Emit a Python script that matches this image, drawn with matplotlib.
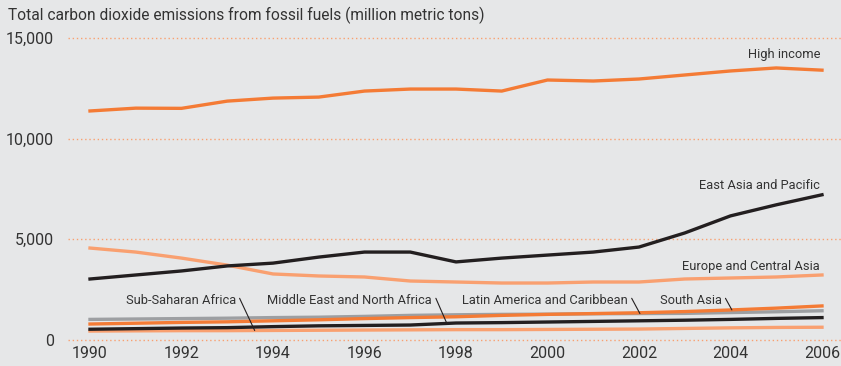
import numpy as np
import matplotlib.pyplot as plt

years = np.arange(1990, 2007)

high_income = [11370, 11510, 11500, 11860, 12010, 12060, 12360, 12460, 12460, 12360,
               12910, 12860, 12960, 13160, 13360, 13510, 13400]
east_asia = [3010, 3210, 3410, 3660, 3800, 4100, 4350, 4350, 3860, 4050,
             4200, 4350, 4600, 5300, 6150, 6700, 7200]
europe_ca = [4550, 4350, 4050, 3700, 3260, 3160, 3110, 2910, 2860, 2810,
             2810, 2860, 2860, 3010, 3060, 3110, 3210]
latin_am = [1000, 1020, 1040, 1060, 1090, 1110, 1150, 1200, 1230, 1250,
            1260, 1280, 1290, 1300, 1340, 1380, 1430]
south_asia = [770, 810, 850, 880, 930, 980, 1040, 1090, 1130, 1200,
              1250, 1290, 1330, 1390, 1470, 1560, 1670]
mena = [510, 540, 570, 590, 640, 680, 700, 720, 820, 840,
        870, 900, 930, 960, 1000, 1050, 1090]
ssa = [420, 430, 440, 440, 450, 460, 470, 480, 490, 490,
       500, 510, 520, 550, 580, 600, 610]

yticks = [0, 5000, 10000, 15000]
ytick_labels = ['0', '5,000', '10,000', '15,000']
xticks = [1990, 1992, 1994, 1996, 1998, 2000, 2002, 2004, 2006]

bg = '#e6e7e8'
orange = '#f47b35'
salmon = '#f9a070'
black = '#231f20'
grey = '#9d9fa2'
txt = '#333333'

plt.rcParams['font.family'] = ['Roboto', 'DejaVu Sans']

fig = plt.figure(figsize=(8.41, 3.66), dpi=100, facecolor=bg)
W, H = 841, 366
# axes: x pixel 68..841, y pixel 38 (15000) .. 339.5 (0)
ax = fig.add_axes([68 / W, (H - 339.5) / H, (W - 68) / W, (339.5 - 38) / H])
ax.set_facecolor(bg)

px_per_year = (822 - 90) / 16
ax.set_xlim(1990 - 22 / px_per_year, 2006 + 19 / px_per_year)
ax.set_ylim(0, 15000)

for v in yticks:
    ax.axhline(v, color=salmon, lw=1.0, ls=(0, (1, 2)), zorder=1, clip_on=False)

lw = 2.4
ax.plot(years, ssa, color=salmon, lw=lw, zorder=3, clip_on=False)
ax.plot(years, mena, color=black, lw=lw, zorder=4, clip_on=False)
ax.plot(years, latin_am, color=grey, lw=lw, zorder=3, clip_on=False)
ax.plot(years, south_asia, color=orange, lw=lw, zorder=3, clip_on=False)
ax.plot(years, europe_ca, color=salmon, lw=lw, zorder=3)
ax.plot(years, east_asia, color=black, lw=lw, zorder=4)
ax.plot(years, high_income, color=orange, lw=lw, zorder=3)

for s in ax.spines.values():
    s.set_visible(False)
ax.set_yticks(yticks)
ax.set_yticklabels(ytick_labels)
ax.set_xticks(xticks)
ax.set_xticklabels([str(x) for x in xticks])
ax.tick_params(length=0, labelsize=11.5, colors=txt)
ax.tick_params(axis='y', pad=10)
ax.tick_params(axis='x', pad=5)

fs = 9.3
ax.text(2005.96, 14200, 'High income', ha='right', va='center', fontsize=fs, color=txt)
ax.text(2005.96, 7650, 'East Asia and Pacific', ha='right', va='center', fontsize=fs, color=txt)
ax.text(2005.96, 3640, 'Europe and Central Asia', ha='right', va='center', fontsize=fs, color=txt)

# labels with leader lines for the lower series
callouts = [
    ('Sub-Saharan Africa', ssa, 1993.19, 1993.6),
    ('Middle East and North Africa', mena, 1997.48, 1997.8),
    ('Latin America and Caribbean', latin_am, 2001.76, 2002.02),
    ('South Asia', south_asia, 2003.81, 2004.03),
]
for name, series, tx, px in callouts:
    ax.text(tx, 1960, name, ha='right', va='center', fontsize=fs, color=txt, zorder=6)
    ax.annotate('', xy=(px, np.interp(px, years, series)), xytext=(tx + 0.08, 2050),
                arrowprops=dict(arrowstyle='-', color=black, lw=0.8,
                                shrinkA=0, shrinkB=0), zorder=6)

fig.text(8 / W, 1 - 15 / H, 'Total carbon dioxide emissions from fossil fuels (million metric tons)',
         ha='left', va='center', fontsize=11.2, color=txt)

fig.savefig('out.png', dpi=100, facecolor=bg)
